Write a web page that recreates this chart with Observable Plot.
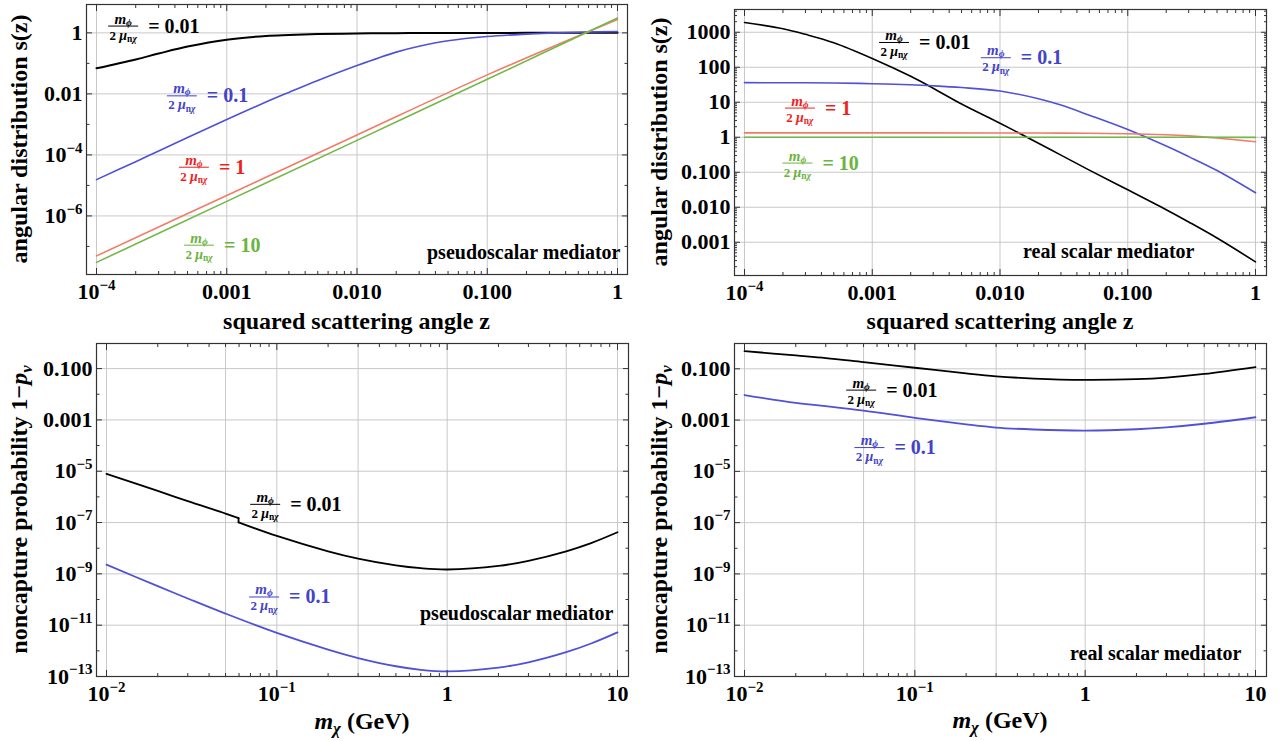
<!DOCTYPE html>
<html><head><meta charset="utf-8">
<script src="https://cdn.jsdelivr.net/npm/d3@7"></script>
<script src="https://cdn.jsdelivr.net/npm/@observablehq/plot@0.6"></script>
<style>
body{margin:0;background:#fff;}
#fig{position:relative;width:1283px;height:741px;background:#fff;overflow:hidden;}
.panel{position:absolute;}
</style></head><body><div id="fig"></div>
<script>
// ---------------- DATA ----------------
// Panel A: pseudoscalar mediator, angular distribution s(z)
const zA = [1e-4, 2e-4, 3e-4, 5e-4, 1e-3, 2e-3, 3e-3, 5e-3, 1e-2, 2e-2, 3e-2, 5e-2, 0.1, 0.2, 0.3, 0.5, 1];
const sA_001 = [0.069, 0.135, 0.21, 0.355, 0.60, 0.79, 0.85, 0.91, 0.955, 0.977, 0.986, 0.991, 0.995, 1, 1, 1, 1];
const sA_01 = [1.55e-5, 6.0e-5, 1.35e-4, 3.7e-4, 1.45e-3, 5.4e-3, 0.0112, 0.0275, 0.085, 0.234, 0.363, 0.55, 0.76, 0.91, 0.98, 1.05, 1.10];
const zA_lin = [1e-4, 1e-3, 1e-2, 0.1, 1];
const sA_1 = [4.9e-8, 4.7e-6, 4.5e-4, 0.042, 2.75];
const sA_10 = [3.0e-8, 3.0e-6, 3.0e-4, 0.030, 3.09];

// Panel B: real scalar mediator, angular distribution s(z)
const zB = [1e-4, 2e-4, 3e-4, 5e-4, 1e-3, 2e-3, 3e-3, 5e-3, 1e-2, 2e-2, 3e-2, 5e-2, 0.1, 0.2, 0.3, 0.5, 1];
const sB_001 = [1905, 1259, 871, 501, 178, 55, 25.1, 8.9, 2.51, 0.676, 0.309, 0.115, 0.0316, 0.0085, 0.0038, 0.00132, 0.000275];
const sB_01 = [36.3, 36.1, 35.9, 35.5, 33.9, 31.6, 29.5, 26.3, 20.9, 12.6, 8.3, 4.27, 1.66, 0.56, 0.28, 0.112, 0.026];
const zB_1 = [1e-4, 1e-3, 1e-2, 3e-2, 0.1, 0.2, 0.3, 0.5, 1];
const sB_1 = [1.334, 1.334, 1.327, 1.312, 1.259, 1.175, 1.096, 0.955, 0.741];
const zB_10 = [1e-4, 1e-2, 0.1, 1];
const sB_10 = [1.0, 1.0, 0.998, 0.99];

// Panel C: pseudoscalar mediator, noncapture probability
const mC_lo = [0.01, 0.02, 0.03, 0.05, 0.0596];
const pC_001_lo = [7.9e-6, 1.7e-6, 6.8e-7, 2.24e-7, 1.48e-7];
const mC_hi = [0.0596, 0.1, 0.2, 0.3, 0.5, 0.7, 1, 2, 3, 5, 7, 10];
const pC_001_hi = [1.02e-7, 3.0e-8, 7.55e-9, 3.92e-9, 2.14e-9, 1.66e-9, 1.48e-9, 2.04e-9, 3.24e-9, 7.6e-9, 1.58e-8, 4.17e-8];
const mC = [0.01, 0.02, 0.03, 0.05, 0.1, 0.2, 0.3, 0.5, 0.7, 1, 2, 3, 5, 7, 10];
const pC_01 = [2.29e-9, 3.31e-10, 1.10e-10, 2.82e-11, 5.0e-12, 1.12e-12, 5.25e-13, 2.51e-13, 1.82e-13, 1.58e-13, 2.21e-13, 3.57e-13, 8.87e-13, 1.93e-12, 5.24e-12];

// Panel D: real scalar mediator, noncapture probability
const mD = [0.01, 0.02, 0.03, 0.05, 0.1, 0.2, 0.3, 0.5, 1, 2, 3, 5, 10];
const pD_001 = [0.49, 0.331, 0.263, 0.182, 0.110, 0.066, 0.051, 0.0417, 0.0372, 0.0398, 0.0457, 0.063, 0.117];
const pD_01 = [9.5e-3, 4.7e-3, 3.5e-3, 2.34e-3, 1.23e-3, 6.8e-4, 5.1e-4, 4.3e-4, 3.9e-4, 4.4e-4, 5.2e-4, 7.2e-4, 1.29e-3];

// Tick values and labels
const zTicks = [1e-4, 1e-3, 1e-2, 1e-1, 1];
const zTickLabels = ["10^−4", "0.001", "0.010", "0.100", "1"];
const sTicksA = [1e-6, 1e-4, 1e-2, 1];
const sTickLabelsA = ["10^−6", "10^−4", "0.01", "1"];
const sTicksA_unl = [1e-7, 1e-5, 1e-3, 1e-1];
const sTicksB = [1e-3, 1e-2, 1e-1, 1, 10, 100, 1000];
const sTickLabelsB = ["0.001", "0.010", "0.100", "1", "10", "100", "1000"];
const mTicks = [0.01, 0.1, 1, 10];
const mTickLabels = ["10^−2", "10^−1", "1", "10"];
const mGrid = [0.01, 0.05, 0.1, 0.3, 1, 5, 10];
const pTicks = [1e-13, 1e-11, 1e-9, 1e-7, 1e-5, 1e-3, 1e-1];
const pTickLabels = ["10^−13", "10^−11", "10^−9", "10^−7", "10^−5", "0.001", "0.100"];
const pTicks_unl = [1e-12, 1e-10, 1e-8, 1e-6, 1e-4, 1e-2];

// Series labels (m_phi / 2 mu)
const ratioLabels = ["0.01", "0.1", "1", "10"];

// ---------------- STYLE ----------------
const FONT = '"Liberation Serif", "Times New Roman", Times, serif';
const NS = "http://www.w3.org/2000/svg";
const LINE = {"0.01": "#000000", "0.1": "#5050d8", "1": "#f27a68", "10": "#72b948"};
const TXT = {"0.01": "#000000", "0.1": "#4343c9", "1": "#ee1f1f", "10": "#6bb43d"};
const GRID = "#c3c3c3", FRAME = "#333333", TICK = "#333333";

const rows = (xs, ys) => xs.map((x, i) => ({x, y: ys[i]}));
function minor(lo, hi) {
  const out = [];
  for (let e = Math.floor(Math.log10(lo)); e <= Math.ceil(Math.log10(hi)); e++)
    for (let k = 2; k <= 9; k++) { const v = k * Math.pow(10, e); if (v > lo * 1.0001 && v < hi * 0.9999) out.push(v); }
  return out;
}

const panels = [
  {
    left: 0, top: 0, width: 640, height: 341, mt: 4, mr: 13, mb: 67, ml: 86,
    xDomain: [1e-4, 1], xInset: [10, 10], yDomain: [Math.pow(10, -7.92), Math.pow(10, 0.93)],
    xTicks: zTicks, xLabels: zTickLabels, xMinor: minor(1e-4, 1), xGrid: zTicks,
    yTicks: sTicksA, yLabels: sTickLabelsA, yUnl: sTicksA_unl, yMinor: [], yGrid: sTicksA,
    series: [
      {key: "0.01", data: rows(zA, sA_001), w: 2},
      {key: "0.1", data: rows(zA, sA_01), w: 1.6},
      {key: "1", data: rows(zA_lin, sA_1), w: 1.6},
      {key: "10", data: rows(zA_lin, sA_10), w: 1.6}
    ],
    notes: [
      {key: "0.01", x: 1.24e-4, y: 1.61},
      {key: "0.1", x: 3.5e-4, y: 8.3e-3},
      {key: "1", x: 4.33e-4, y: 3.8e-5},
      {key: "10", x: 4.74e-4, y: 1.06e-7}
    ],
    mediator: "pseudoscalar mediator", medDx: -7, medDy: -16,
    xTitle: [{t: "squared scattering angle z"}], xTitleY: 329,
    yTitle: [{t: "angular distribution s(z)"}], yTitleX: 27
  },
  {
    left: 640, top: 0, width: 643, height: 341, mt: 9, mr: 17, mb: 66, ml: 94,
    xDomain: [1e-4, 1], xInset: [10, 11], yDomain: [Math.pow(10, -3.95), Math.pow(10, 3.65)],
    xTicks: zTicks, xLabels: zTickLabels, xMinor: minor(1e-4, 1), xGrid: zTicks,
    yTicks: sTicksB, yLabels: sTickLabelsB, yUnl: [], yMinor: minor(Math.pow(10, -3.95), Math.pow(10, 3.65)), yGrid: sTicksB,
    series: [
      {key: "0.01", data: rows(zB, sB_001), w: 1.6},
      {key: "0.1", data: rows(zB, sB_01), w: 1.6},
      {key: "1", data: rows(zB_1, sB_1), w: 1.6},
      {key: "10", data: rows(zB_10, sB_10), w: 1.6}
    ],
    notes: [
      {key: "0.01", x: 1.14e-3, y: 494},
      {key: "0.1", x: 7.14e-3, y: 181},
      {key: "1", x: 2.09e-4, y: 6.6},
      {key: "10", x: 2.0e-4, y: 0.177}
    ],
    mediator: "real scalar mediator", medDx: -72, medDy: -18,
    xTitle: [{t: "squared scattering angle z"}], xTitleY: 329,
    yTitle: [{t: "angular distribution s(z)"}], yTitleX: 27
  },
  {
    left: 0, top: 341, width: 640, height: 400, mt: 2, mr: 12, mb: 65, ml: 96,
    xDomain: [0.01, 10], xInset: [10, 11], yDomain: [1e-13, 0.95],
    xTicks: mTicks, xLabels: mTickLabels, xMinor: minor(0.01, 10), xGrid: mGrid,
    yTicks: pTicks, yLabels: pTickLabels, yUnl: pTicks_unl, yMinor: [], yGrid: pTicks,
    series: [
      {key: "0.01", data: rows(mC_lo, pC_001_lo), w: 1.8},
      {key: "0.01", data: [rows(mC_lo, pC_001_lo).at(-1), rows(mC_hi, pC_001_hi)[0]], w: 1.8},
      {key: "0.01", data: rows(mC_hi, pC_001_hi), w: 1.8},
      {key: "0.1", data: rows(mC, pC_01), w: 1.8}
    ],
    notes: [
      {key: "0.01", x: 0.0702, y: 4.9e-7},
      {key: "0.1", x: 0.0692, y: 1.2e-10}
    ],
    mediator: "pseudoscalar mediator", medDx: -15, medDy: -57,
    xTitle: [{t: "m", i: true}, {t: "χ", i: true, sub: true}, {t: " (GeV)"}], xTitleY: 388,
    yTitle: [{t: "noncapture probability 1−"}, {t: "p", i: true}, {t: "v", i: true, sub: true}], yTitleX: 27
  },
  {
    left: 640, top: 341, width: 643, height: 400, mt: 2, mr: 17, mb: 65, ml: 94,
    xDomain: [0.01, 10], xInset: [10, 11], yDomain: [1e-13, 0.97],
    xTicks: mTicks, xLabels: mTickLabels, xMinor: minor(0.01, 10), xGrid: mGrid,
    yTicks: pTicks, yLabels: pTickLabels, yUnl: pTicks_unl, yMinor: [], yGrid: pTicks,
    series: [
      {key: "0.01", data: rows(mD, pD_001), w: 1.8},
      {key: "0.1", data: rows(mD, pD_01), w: 1.8}
    ],
    notes: [
      {key: "0.01", x: 0.0398, y: 0.0141},
      {key: "0.1", x: 0.0445, y: 8.1e-5}
    ],
    mediator: "real scalar mediator", medDx: -25, medDy: -17,
    xTitle: [{t: "m", i: true}, {t: "χ", i: true, sub: true}, {t: " (GeV)"}], xTitleY: 387,
    yTitle: [{t: "noncapture probability 1−"}, {t: "p", i: true}, {t: "v", i: true, sub: true}], yTitleX: 27
  }
];

function labelFor(ticks, labels) { return d => { const i = ticks.findIndex(t => Math.abs(t - d) / t < 1e-6); return i >= 0 ? labels[i] : ""; }; }

function buildPlot(c) {
  const marks = [
    Plot.gridX(c.xGrid, {stroke: GRID, strokeOpacity: 1, strokeWidth: 0.9}),
    Plot.gridY(c.yGrid, {stroke: GRID, strokeOpacity: 1, strokeWidth: 0.9})
  ];
  for (const s of c.series)
    marks.push(Plot.line(s.data, {x: "x", y: "y", stroke: LINE[s.key], strokeWidth: s.w, curve: "catmull-rom"}));
  for (const anchor of ["bottom", "top"]) {
    marks.push(Plot.axisX({anchor, ticks: c.xTicks, tickSize: -6, fill: "none", stroke: TICK, label: null}));
    if (c.xMinor.length) marks.push(Plot.axisX({anchor, ticks: c.xMinor, tickSize: -3, fill: "none", stroke: TICK, label: null}));
  }
  for (const anchor of ["left", "right"]) {
    marks.push(Plot.axisY({anchor, ticks: c.yTicks, tickSize: -6, fill: "none", stroke: TICK, label: null}));
    if (c.yUnl.length) marks.push(Plot.axisY({anchor, ticks: c.yUnl, tickSize: -3.5, fill: "none", stroke: TICK, label: null}));
    if (c.yMinor.length) marks.push(Plot.axisY({anchor, ticks: c.yMinor, tickSize: -3, fill: "none", stroke: TICK, label: null}));
  }
  marks.push(Plot.axisX({anchor: "bottom", ticks: c.xTicks, tickFormat: labelFor(c.xTicks, c.xLabels), tickSize: 0, tickPadding: 9, label: null, fill: "black", fontSize: 22, fontWeight: "bold"}));
  marks.push(Plot.axisY({anchor: "left", ticks: c.yTicks, tickFormat: labelFor(c.yTicks, c.yLabels), tickSize: 0, tickPadding: 4, label: null, fill: "black", fontSize: 22, fontWeight: "bold"}));
  marks.push(Plot.frame({stroke: FRAME, strokeWidth: 1.2}));
  marks.push(Plot.text([c.mediator], {text: d => d, frameAnchor: "bottom-right", textAnchor: "end", lineAnchor: "bottom", dx: c.medDx, dy: c.medDy, fontSize: 20, fontWeight: "bold", fill: "black"}));
  return Plot.plot({
    width: c.width, height: c.height,
    marginTop: c.mt, marginRight: c.mr, marginBottom: c.mb, marginLeft: c.ml,
    x: {type: "log", domain: c.xDomain, insetLeft: c.xInset[0], insetRight: c.xInset[1], axis: null},
    y: {type: "log", domain: c.yDomain, axis: null},
    style: {fontFamily: FONT, fontWeight: "bold", fontSize: "22px", color: "black", background: "white", overflow: "visible"},
    marks
  });
}

function superscripts(svg) {
  svg.querySelectorAll("text").forEach(t => {
    const s = t.textContent; const i = s.indexOf("^");
    if (i < 0) return;
    while (t.firstChild) t.removeChild(t.firstChild);
    const b = document.createElementNS(NS, "tspan"); b.textContent = s.slice(0, i); t.appendChild(b);
    const e = document.createElementNS(NS, "tspan"); e.textContent = s.slice(i + 1);
    e.setAttribute("font-size", "0.68em"); e.setAttribute("dy", "-0.62em"); t.appendChild(e);
  });
}

function richText(sel, parts) {
  let shifted = false;
  for (const p of parts) {
    const ts = sel.append("tspan").text(p.t);
    if (p.i) ts.attr("font-style", "italic");
    if (p.sub) { ts.attr("font-size", "0.7em").attr("dy", "0.3em"); shifted = true; }
    else if (shifted) { ts.attr("dy", "-0.21em"); shifted = false; }
  }
}

function drawRatio(svg, xPx, yPx, value, color) {
  const g = d3.select(svg).append("g").attr("fill", color).attr("font-family", FONT).attr("font-weight", "bold").attr("text-anchor", "start");
  const den = g.append("text").attr("x", xPx).attr("y", yPx + 13.5).attr("font-size", 13).attr("text-anchor", "start");
  den.append("tspan").text("2 ");
  den.append("tspan").attr("font-style", "italic").attr("font-size", 14).text("μ");
  den.append("tspan").attr("font-size", 9.5).attr("dy", 2.5).text("n");
  den.append("tspan").attr("font-size", 9.5).attr("font-style", "italic").text("χ");
  const w = den.node().getComputedTextLength();
  const barW = Math.max(30, w + 2);
  den.attr("x", xPx + (barW - w) / 2);
  g.append("line").attr("x1", xPx).attr("x2", xPx + barW).attr("y1", yPx).attr("y2", yPx).attr("stroke", color).attr("stroke-width", 1);
  const num = g.append("text").attr("x", xPx + barW / 2).attr("y", yPx - 2.5).attr("text-anchor", "middle").attr("font-size", 15);
  num.append("tspan").attr("font-style", "italic").text("m");
  num.append("tspan").attr("font-size", 10).attr("font-style", "italic").attr("dy", 2).text("ϕ");
  g.append("text").attr("x", xPx + 40).attr("y", yPx + 6.5).attr("font-size", 20).attr("text-anchor", "start").text("= " + value);
}

const fig = document.getElementById("fig");
for (const c of panels) {
  const svg = buildPlot(c);
  const wrap = document.createElement("div");
  wrap.className = "panel"; wrap.style.left = c.left + "px"; wrap.style.top = c.top + "px";
  wrap.appendChild(svg); fig.appendChild(wrap);
  superscripts(svg);
  const xs = svg.scale("x"), ys = svg.scale("y");
  for (const n of c.notes) drawRatio(svg, xs.apply(n.x), ys.apply(n.y), n.key, TXT[n.key]);
  const g = d3.select(svg).append("g").attr("font-family", FONT).attr("font-weight", "bold").attr("font-size", 24).attr("fill", "black");
  const fx0 = c.ml, fx1 = c.width - c.mr, fy0 = c.mt, fy1 = c.height - c.mb;
  richText(g.append("text").attr("x", (fx0 + fx1) / 2).attr("y", c.xTitleY).attr("text-anchor", "middle"), c.xTitle);
  richText(g.append("text").attr("text-anchor", "middle").attr("transform", `translate(${c.yTitleX},${(fy0 + fy1) / 2}) rotate(-90)`), c.yTitle);
}
</script></body></html>
